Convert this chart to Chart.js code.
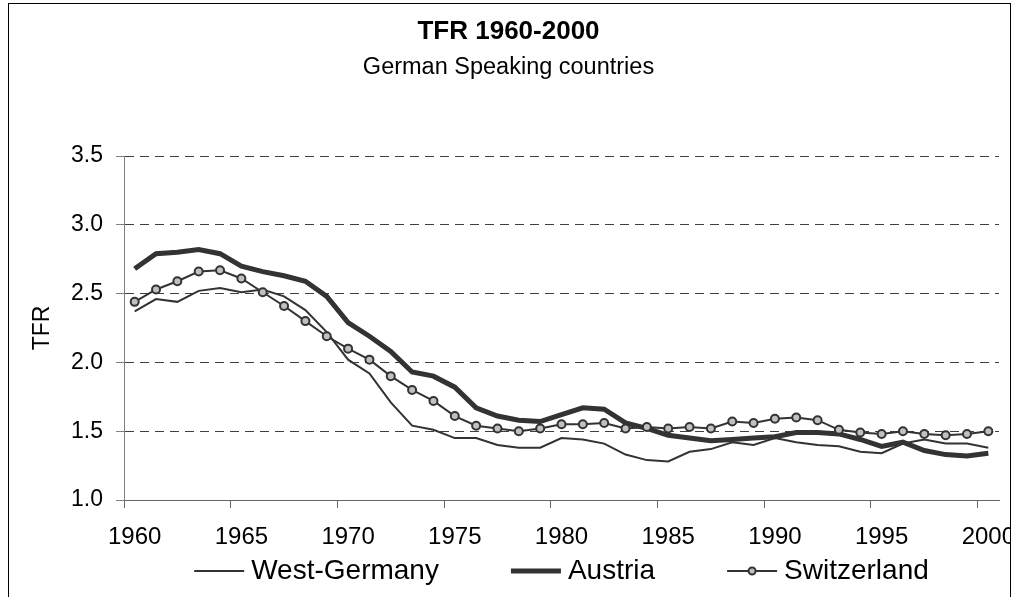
<!DOCTYPE html>
<html>
<head>
<meta charset="utf-8">
<title>TFR 1960-2000</title>
<script src="https://cdn.jsdelivr.net/npm/chart.js@4/dist/chart.umd.min.js"></script>
<style>
  body { margin: 0; background: #fff; }
  canvas { display: block; }
</style>
</head>
<body>
<canvas id="tfrChart" width="1017" height="597"></canvas>
<script>
// Dados
const years = [1960, 1961, 1962, 1963, 1964, 1965, 1966, 1967, 1968, 1969,
               1970, 1971, 1972, 1973, 1974, 1975, 1976, 1977, 1978, 1979,
               1980, 1981, 1982, 1983, 1984, 1985, 1986, 1987, 1988, 1989,
               1990, 1991, 1992, 1993, 1994, 1995, 1996, 1997, 1998, 1999,
               2000];

const westGermany = [2.37, 2.46, 2.44, 2.52, 2.54, 2.51, 2.53, 2.48, 2.38, 2.22,
                     2.02, 1.92, 1.71, 1.54, 1.51, 1.45, 1.45, 1.40, 1.38, 1.38,
                     1.45, 1.44, 1.41, 1.33, 1.29, 1.28, 1.35, 1.37, 1.42, 1.40,
                     1.45, 1.42, 1.40, 1.39, 1.35, 1.34, 1.41, 1.44, 1.41, 1.41,
                     1.38];

const austria = [2.68, 2.79, 2.80, 2.82, 2.79, 2.70, 2.66, 2.63, 2.59, 2.48,
                 2.29, 2.19, 2.08, 1.93, 1.90, 1.82, 1.67, 1.61, 1.58, 1.57,
                 1.62, 1.67, 1.66, 1.56, 1.52, 1.47, 1.45, 1.43, 1.44, 1.45,
                 1.46, 1.49, 1.49, 1.48, 1.44, 1.39, 1.42, 1.36, 1.33, 1.32,
                 1.34];

const switzerland = [2.44, 2.53, 2.59, 2.66, 2.67, 2.61, 2.51, 2.41, 2.30, 2.19,
                     2.10, 2.02, 1.90, 1.80, 1.72, 1.61, 1.54, 1.52, 1.50, 1.52,
                     1.55, 1.55, 1.56, 1.52, 1.53, 1.52, 1.53, 1.52, 1.57, 1.56,
                     1.59, 1.60, 1.58, 1.51, 1.49, 1.48, 1.50, 1.48, 1.47, 1.48,
                     1.50];

const yMin = 1.0;
const yMax = 3.5;
const yStep = 0.5;
const labelEvery = 5;

const FONT = '"Liberation Sans", Arial, sans-serif';

// fundo branco + borda preta em volta do gráfico
const framePlugin = {
    id: 'frame',
    beforeDraw(chart) {
        const ctx = chart.ctx;
        ctx.save();
        ctx.fillStyle = '#fff';
        ctx.fillRect(0, 0, chart.width, chart.height);
        ctx.restore();
    },
    afterDraw(chart) {
        const ctx = chart.ctx;
        ctx.save();
        ctx.fillStyle = '#fff';
        ctx.fillRect(1011, 0, chart.width - 1011, chart.height);
        ctx.strokeStyle = '#000';
        ctx.lineWidth = 1;
        ctx.strokeRect(8.5, 3.5, 1002, 600);
        ctx.restore();
    }
};

// legenda em baixo, centrada na área do gráfico
const legendPlugin = {
    id: 'bottomLegend',
    afterDraw(chart) {
        const ctx = chart.ctx;
        const sets = chart.data.datasets;
        const lineLen = 50, gap = 7, spacing = 72, y = 571;
        ctx.save();
        ctx.font = '28px ' + FONT;
        const widths = sets.map(ds => lineLen + gap + ctx.measureText(ds.label).width);
        const total = widths.reduce((a, b) => a + b, 0) + spacing * (sets.length - 1);
        let x = (chart.chartArea.left + chart.chartArea.right) / 2 - total / 2;
        sets.forEach((ds, i) => {
            ctx.strokeStyle = ds.borderColor;
            ctx.lineWidth = ds.borderWidth;
            ctx.beginPath();
            ctx.moveTo(x, y);
            ctx.lineTo(x + lineLen, y);
            ctx.stroke();
            if (ds.pointRadius > 0) {
                ctx.beginPath();
                ctx.arc(x + lineLen / 2, y, ds.pointRadius - 0.5, 0, Math.PI * 2);
                ctx.fillStyle = ds.pointBackgroundColor;
                ctx.fill();
                ctx.lineWidth = ds.pointBorderWidth;
                ctx.strokeStyle = ds.pointBorderColor;
                ctx.stroke();
            }
            ctx.fillStyle = '#000';
            ctx.textBaseline = 'middle';
            ctx.textAlign = 'left';
            ctx.fillText(ds.label, x + lineLen + gap, y);
            x += widths[i] + spacing;
        });
        ctx.restore();
    }
};

new Chart(document.getElementById('tfrChart'), {
    type: 'line',
    data: {
        labels: years,
        datasets: [
            {
                label: 'West-Germany',
                data: westGermany,
                borderColor: '#333333',
                borderWidth: 2,
                pointRadius: 0,
                order: 3
            },
            {
                label: 'Austria',
                data: austria,
                borderColor: '#333333',
                borderWidth: 5,
                pointRadius: 0,
                order: 2
            },
            {
                label: 'Switzerland',
                data: switzerland,
                borderColor: '#333333',
                borderWidth: 2,
                pointRadius: 4,
                pointBackgroundColor: '#c0c0c0',
                pointBorderColor: '#333333',
                pointBorderWidth: 2,
                order: 1
            }
        ]
    },
    options: {
        responsive: false,
        devicePixelRatio: 1,
        animation: false,
        layout: { padding: 0 },
        elements: { line: { tension: 0 } },
        plugins: {
            legend: { display: false },
            tooltip: { enabled: false },
            title: {
                display: true,
                text: 'TFR 1960-2000',
                color: '#000',
                font: { family: FONT, size: 26, weight: 'bold' },
                padding: { top: 16, bottom: 6 }
            },
            subtitle: {
                display: true,
                text: 'German Speaking countries',
                color: '#000',
                font: { family: FONT, size: 23.5 },
                padding: { top: 0, bottom: 74.6 }
            }
        },
        scales: {
            x: {
                type: 'category',
                offset: true,
                afterFit(scale) {
                    scale.height = 97;
                    // área do gráfico termina em x = 999, o rótulo 2000 sai para fora
                    scale.paddingLeft = 0;
                    scale.paddingRight = 18;
                },
                grid: {
                    offset: true,
                    drawOnChartArea: false,
                    drawTicks: true,
                    tickLength: 8,
                    color: c => (c.index % labelEvery === 0 && c.index < years.length) ? '#666666' : 'rgba(0,0,0,0)'
                },
                border: { display: true, color: '#666666', width: 1 },
                ticks: {
                    autoSkip: false,
                    maxRotation: 0,
                    minRotation: 0,
                    padding: 15,
                    color: '#000',
                    font: { family: FONT, size: 24 },
                    callback: function (value, index) {
                        const yr = years[index];
                        return yr % labelEvery === 0 ? String(yr) : '';
                    }
                }
            },
            y: {
                min: yMin,
                max: yMax,
                afterFit(scale) { scale.width = 124; },
                grid: {
                    drawTicks: true,
                    tickLength: 8,
                    tickColor: '#808080',
                    tickBorderDash: [],
                    color: c => (c.tick && c.tick.value === yMin) ? 'rgba(0,0,0,0)' : '#404040'
                },
                border: { display: true, color: '#808080', width: 1, dash: [9, 6] },
                ticks: {
                    stepSize: yStep,
                    padding: 13,
                    color: '#000',
                    font: { family: FONT, size: 23 },
                    callback: v => v.toFixed(1)
                },
                title: {
                    display: true,
                    text: 'TFR',
                    color: '#000',
                    font: { family: FONT, size: 23 },
                    padding: { top: 29, bottom: 0 }
                }
            }
        }
    },
    plugins: [framePlugin, legendPlugin]
});
</script>
</body>
</html>
